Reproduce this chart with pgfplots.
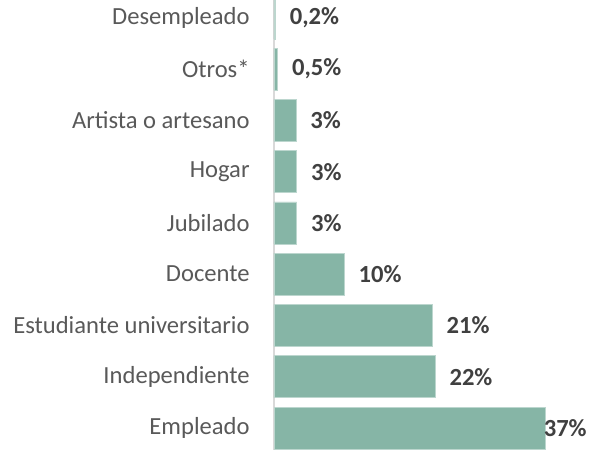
\documentclass[border=0pt]{standalone}
\usepackage{fontspec}
\setmainfont{Carlito}
\usepackage{pgfplots}
\pgfplotsset{compat=1.18}
\definecolor{barG}{RGB}{134,181,166}
\definecolor{catG}{RGB}{89,89,89}
\definecolor{valG}{RGB}{64,64,64}

\begin{document}
\fontsize{12.3}{14}\selectfont
\begin{tikzpicture}
% frame: 590x450 px at 0.5pt per px, axis starts at px 274
\useasboundingbox (-137pt,0pt) rectangle (158pt,225pt);
\begin{axis}[
  at={(0pt,0pt)}, anchor=south west,
  scale only axis,
  width=135.5pt, height=225pt,
  xmin=0, xmax=37,
  ymin=-0.43, ymax=8.35,
  axis x line=none,
  axis y line*=left,
  axis line style={draw=gray!30, line width=0.6pt, -},
  ytick={0,...,8},
  yticklabels={Empleado, Independiente, Estudiante universitario, Docente,
               Jubilado, Hogar, Artista o artesano, Otros*, Desempleado},
  major tick length=0pt,
  yticklabel style={anchor=east, inner sep=0pt, xshift=-12pt, text=catG, font=\fontsize{12.3}{14}\selectfont},
  point meta=explicit symbolic,
  nodes near coords,
  nodes near coords style={anchor=west, inner sep=0pt, xshift=7pt,
                           text=valG, font=\fontsize{12.3}{14}\selectfont\bfseries},
  clip=false,
]
\addplot[xbar, bar shift=0pt, bar width=0.82, fill=barG, draw=barG!55!white, line width=0.4pt]
  coordinates {
    (22,1)   [22\%]
    (21.6,2) [21\%]
    (9.6,3)  [10\%]
    (3.1,4)  [3\%]
    (3.1,5)  [3\%]
    (3.0,6)  [3\%]
    (0.5,7)  [0,5\%]
    (0.2,8)  [0,2\%]
  };
% Empleado: label pulled back onto the bar end, as in the reference
\addplot[xbar, bar shift=0pt, bar width=0.82, fill=barG, draw=barG!55!white, line width=0.4pt,
  nodes near coords style={xshift=-7.8pt}]
  coordinates {(37,0) [37\%]};
\end{axis}
\end{tikzpicture}
\end{document}
